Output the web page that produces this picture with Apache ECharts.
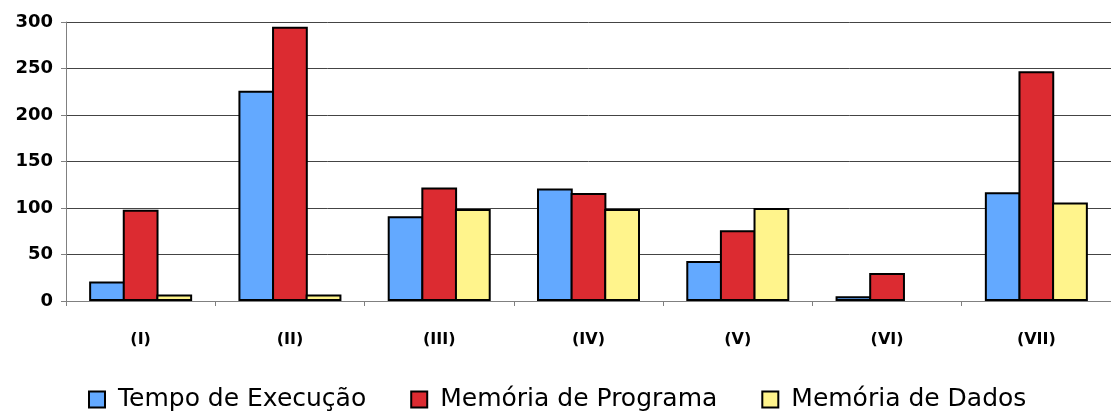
<!DOCTYPE html>
<html>
<head>
<meta charset="utf-8">
<script src="https://cdn.jsdelivr.net/npm/echarts@6/dist/echarts.min.js"></script>
<style>
  html, body { margin: 0; padding: 0; background: #fff; }
  #chart { width: 1111px; height: 412px; }
</style>
</head>
<body>
<div id="chart"></div>
<script>
// Categories (test cases) and the three measured quantities per case
const categories = ['(I)', '(II)', '(III)', '(IV)', '(V)', '(VI)', '(VII)'];
const tempoExecucao   = [21, 226, 91, 121, 43, 5, 117];
const memoriaPrograma = [98, 295, 122, 116, 76, 30, 247];
const memoriaDados    = [7, 7, 99, 99, 100, null, 106];
const seriesNames = ['Tempo de Execução', 'Memória de Programa', 'Memória de Dados'];
const yTicks = { min: 0, max: 300, interval: 50 };

const colors = ['#63a9ff', '#dc2b31', '#fff48c'];
const barStyle = (c) => ({ color: c, borderColor: '#000', borderWidth: 2 });
// neighbouring bars share one outline
const barLayout = { barGap: '-6%', barCategoryGap: '31%' };

const chart = echarts.init(document.getElementById('chart'), null, { renderer: 'canvas' });
chart.setOption({
  animation: false,
  backgroundColor: '#fff',
  grid: { left: 66, right: -5, top: 22, bottom: 111, containLabel: false },
  legend: {
    top: 387,
    left: 88,
    padding: 0,
    itemWidth: 16,
    itemHeight: 16,
    itemGap: 44,
    icon: 'rect',
    textStyle: { fontFamily: 'DejaVu Sans', fontSize: 25, color: '#000', padding: [0, 0, 0, 8] },
    data: seriesNames
  },
  xAxis: {
    type: 'category',
    data: categories,
    axisLine: { lineStyle: { color: '#808080', width: 1 } },
    axisTick: { show: true, length: 5, lineStyle: { color: '#808080' } },
    axisLabel: { margin: 31, fontFamily: 'DejaVu Sans', fontWeight: 'bold', fontSize: 16, color: '#000' }
  },
  yAxis: {
    type: 'value',
    min: yTicks.min,
    max: yTicks.max,
    interval: yTicks.interval,
    axisLine: { show: true, lineStyle: { color: '#808080', width: 1 } },
    axisTick: { show: true, length: 5, lineStyle: { color: '#808080' } },
    axisLabel: { margin: 13, fontFamily: 'DejaVu Sans', fontWeight: 'bold', fontSize: 18, color: '#000' },
    splitLine: { show: true, lineStyle: { color: '#444', width: 1 } }
  },
  series: [
    Object.assign({ name: seriesNames[0], type: 'bar', data: tempoExecucao, itemStyle: barStyle(colors[0]) }, barLayout),
    Object.assign({ name: seriesNames[1], type: 'bar', data: memoriaPrograma, itemStyle: barStyle(colors[1]) }, barLayout),
    Object.assign({ name: seriesNames[2], type: 'bar', data: memoriaDados, itemStyle: barStyle(colors[2]) }, barLayout)
  ]
});
</script>
</body>
</html>
